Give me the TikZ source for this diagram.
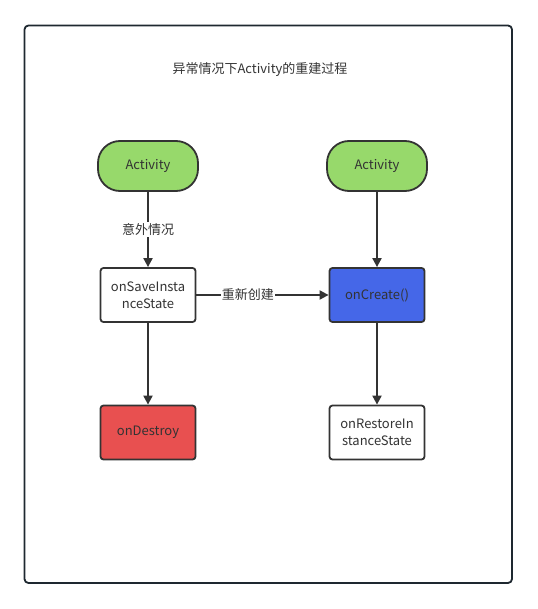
\documentclass[tikz,border=0pt]{standalone}
\usepackage{fontspec}
\setmainfont{Noto Sans CJK SC}
\usetikzlibrary{arrows.meta}
\definecolor{ink}{HTML}{333333}
\definecolor{frame}{HTML}{1E2830}
\definecolor{actgreen}{HTML}{97D96B}
\definecolor{createblue}{HTML}{4567E8}
\definecolor{destroyred}{HTML}{E85050}
\tikzset{
  base/.style={draw=ink, line width=1.8pt, minimum width=95pt, minimum height=54pt, align=center, text=ink, font=\fontsize{13}{17}\selectfont},
  boxnode/.style={base, rounded corners=3pt, fill=white},
  actnode/.style={base, rounded corners=22pt, fill=actgreen, minimum width=100pt, minimum height=50pt},
  arr/.style={draw=ink, line width=2pt, -{Triangle[length=9pt,width=9pt]}},
  lbl/.style={fill=white, text=ink, inner sep=1pt, font=\fontsize{13}{15}\selectfont}
}
\begin{document}
\begin{tikzpicture}[x=1pt,y=-1pt]
\useasboundingbox (0,0) rectangle (537,609);
\draw[frame, line width=1.8pt, rounded corners=4pt] (24.5,25.5) rectangle (512,583);
\node[text=ink, font=\fontsize{13}{15}\selectfont] (title) at (260,70) {异常情况下Activity的重建过程};
\node[actnode] (act1) at (148,166) {Activity};
\node[actnode] (act2) at (377,166) {Activity};
\node[boxnode] (save) at (148,295) {onSaveInsta\\nceState};
\node[boxnode, fill=createblue] (create) at (377,295) {onCreate()};
\node[boxnode, fill=destroyred] (destroy) at (148,432.5) {onDestroy};
\node[boxnode] (restore) at (377,432.5) {onRestoreIn\\stanceState};
\draw[arr] (act1) -- node[lbl, pos=0.5] {意外情况} (save);
\draw[arr] (act2) -- (create);
\draw[arr] (save) -- node[lbl, pos=0.39] {重新创建} (create);
\draw[arr] (save) -- (destroy);
\draw[arr] (create) -- (restore);
\end{tikzpicture}
\end{document}
